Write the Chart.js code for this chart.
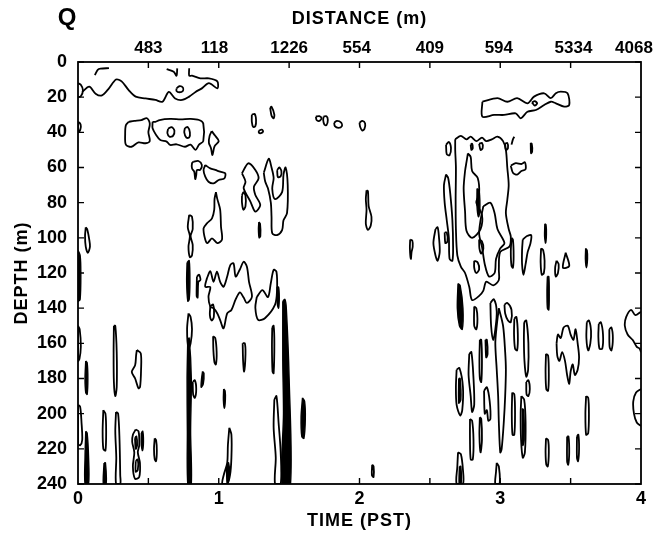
<!DOCTYPE html>
<html>
<head>
<meta charset="utf-8">
<script src="https://cdn.jsdelivr.net/npm/chart.js@4.4.1/dist/chart.umd.min.js"></script>
<style>
  body { margin: 0; background: #fff; }
  #canvas { display: block; }
</style>
</head>
<body>
<canvas id="canvas" width="658" height="535"></canvas>
<script>
// axes
const timeTicks = [0, 1, 2, 3, 4];
const timeTickMarks = [0.5, 1, 1.5, 2, 2.5, 3, 3.5];
const depthTicks = [0, 20, 40, 60, 80, 100, 120, 140, 160, 180, 200, 220, 240];
const distancePos = [0.5, 0.97, 1.5, 1.98, 2.5, 2.99, 3.52, 3.95];
const distanceLabels = ['483', '118', '1226', '554', '409', '594', '5334', '4068'];

// contour lines as [time, depth] points
const openLines = [
    [[0,12],[0.02,13],[0.035,16],[0.02,19.5],[0,20]],
    [[0.03,17],[0.08,14],[0.125,18],[0.17,19],[0.22,15],[0.27,10],[0.31,11],[0.36,16],[0.41,19.7],[0.48,20.7],[0.55,21.6],[0.6,22.6],[0.645,17],[0.69,20.7],[0.74,21.6],[0.79,19.7],[0.835,17],[0.88,15],[0.93,12],[0.99,15],[0.99,11],[0.93,9.3],[0.87,9.3],[0.81,7.8],[0.79,7.8],[0.79,3.6]],
    [[0.12,7.5],[0.14,4.5],[0.16,3.8],[0.22,3.5]],
    [[0.63,4],[0.68,5.5],[0.70,7.8],[0.705,3.6]],
    [[3.08,47],[3.09,44],[3.10,42.5]],
    [[4.0,142],[3.96,144],[3.93,141],[3.895,145],[3.885,150],[3.905,155],[3.94,158],[3.97,162],[3.99,163],[4.0,165]],
    [[4.0,186],[3.965,188],[3.945,193],[3.95,200],[3.97,205],[4.0,207]]
];

const upperLoops = [
    [[0.70,15],[0.72,13.8],[0.745,14.5],[0.745,16.5],[0.72,17.2],[0.70,16.5]],
    [[0.36,34],[0.40,33.5],[0.45,33],[0.49,32],[0.51,35],[0.50,40],[0.51,45],[0.48,46.2],[0.43,45.7],[0.38,48.2],[0.34,47],[0.335,41],[0.34,36]],
    [[0.53,34],[0.55,34],[0.58,33],[0.655,32.4],[0.73,32.6],[0.80,32.4],[0.86,33],[0.89,35],[0.89,45],[0.86,47],[0.835,50],[0.80,47],[0.76,48.2],[0.70,46.8],[0.655,47.2],[0.63,45.3],[0.585,44.4],[0.555,41.5],[0.53,37.7]],
    [[0.64,38],[0.665,37],[0.685,39],[0.675,42],[0.65,42.5],[0.635,40.5]],
    [[0.76,37.5],[0.78,37],[0.795,40],[0.79,43],[0.77,43],[0.755,40]],
    [[0.95,39.3],[0.975,42],[1.0,45],[0.97,48],[0.955,52.9],[0.945,49],[0.93,46],[0.935,42]],
    [[1.235,30],[1.255,29.5],[1.265,33],[1.26,36.5],[1.245,37],[1.235,34]],
    [[1.285,39],[1.305,38.5],[1.315,39.5],[1.30,40.5],[1.285,40.2]],
    [[1.365,26],[1.375,25.5],[1.395,30],[1.39,32],[1.375,30.5]],
    [[1.69,31],[1.715,30.8],[1.73,32],[1.715,33.5],[1.695,33]],
    [[1.745,31],[1.765,30.8],[1.775,33],[1.765,36],[1.75,35.5],[1.742,33]],
    [[1.82,34.5],[1.84,33.5],[1.87,34.5],[1.875,36.5],[1.85,37.5],[1.825,36.5]],
    [[2.0,34.5],[2.02,33.5],[2.04,35],[2.035,38],[2.02,39],[2.005,37]],
    [[0,34],[0.015,35],[0.02,37],[0.01,39.5],[0,40]],
    [[0.82,56.7],[0.856,56.3],[0.88,58.6],[0.868,61.4],[0.845,61.4],[0.84,64.3],[0.833,66.6],[0.826,62.4],[0.81,60.5],[0.81,57.6]],
    [[0.904,58.6],[0.94,60.5],[0.975,61.4],[1.01,62.4],[1.046,63.3],[1.04,66.2],[1.0,67.1],[0.963,69],[0.927,68.1],[0.904,65.2],[0.892,61.4]],
    [[1.165,63.3],[1.21,57.6],[1.26,61.4],[1.283,66.2],[1.25,70.9],[1.26,75.6],[1.295,81.3],[1.26,85.1],[1.225,79.4],[1.177,71.8],[1.19,68.1]],
    [[1.32,63],[1.355,55],[1.375,60],[1.39,66],[1.38,72],[1.40,78],[1.45,74],[1.46,64],[1.475,60],[1.49,70],[1.485,86],[1.46,90],[1.45,95.6],[1.414,98.4],[1.38,97.4],[1.375,88],[1.37,80],[1.35,72],[1.33,68]],
    [[1.415,61.5],[1.43,60],[1.445,62],[1.44,65],[1.42,65.5]],
    [[2.05,73],[2.06,73.5],[2.065,82],[2.085,88],[2.08,93],[2.06,95.5],[2.045,92],[2.05,84],[2.045,78]],
    [[2.36,101],[2.375,101.5],[2.378,105],[2.37,108],[2.365,112],[2.358,106]]
];

const middleLoops = [
    [[0.055,94],[0.065,95],[0.08,101],[0.085,105],[0.07,108.5],[0.055,105],[0.05,99]],
    [[0.79,87],[0.81,88],[0.815,95],[0.80,99],[0.815,104],[0.81,110],[0.795,111],[0.785,105],[0.795,99],[0.78,94]],
    [[0.98,74],[0.99,78],[1.01,84],[1.016,93.7],[1.023,101],[0.99,103],[0.952,100.3],[0.92,103],[0.904,101],[0.892,94.6],[0.916,91.8],[0.952,88.9],[0.968,84],[0.97,78]],
    [[1.165,76],[1.175,74],[1.19,76],[1.19,82],[1.175,84],[1.165,80]],
    [[0.785,143],[0.80,145],[0.81,152],[0.80,160],[0.785,163],[0.775,152]],
    [[0.845,122],[0.86,121],[0.87,124],[0.855,125],[0.85,134],[0.843,133]],
    [[0.916,123],[0.94,119],[0.963,125],[0.987,119.3],[1.01,125],[1.034,127.8],[1.06,122],[1.082,115.5],[1.105,114.5],[1.12,122],[1.15,118],[1.177,113.6],[1.2,116.4],[1.215,125],[1.236,133.5],[1.20,137],[1.177,134],[1.15,131],[1.12,135],[1.09,141],[1.06,143],[1.034,151.5],[1.01,146.8],[0.99,143],[0.963,140],[0.94,139.2],[0.927,133.5],[0.94,128],[0.904,127.8]],
    [[0.94,139],[0.96,138],[0.965,145],[0.95,147],[0.937,144]],
    [[1.27,133.7],[1.31,129.7],[1.35,133.7],[1.37,125.7],[1.39,118.2],[1.41,119.3],[1.414,129.7],[1.40,138],[1.33,145.6],[1.28,146.7],[1.26,139.8]],
    [[1.38,151],[1.39,150],[1.395,160],[1.39,177],[1.382,176],[1.378,162]],
    [[1.395,192],[1.41,190],[1.425,205],[1.44,222],[1.44,240],[1.40,240],[1.405,225],[1.39,208]]
];

const lowerLoops = [
    [[0,150],[0.012,152],[0.02,162],[0.01,169],[0,170]],
    [[0.255,150],[0.265,150],[0.275,165],[0.275,185],[0.265,190],[0.255,182],[0.253,165]],
    [[0.418,163.8],[0.446,165.7],[0.448,175.2],[0.441,184.7],[0.43,185.6],[0.406,180],[0.382,176.2],[0.406,172.4],[0.413,166.7]],
    [[0,195],[0.015,196],[0.025,205],[0.03,215],[0.015,218],[0,217]],
    [[0.18,198],[0.195,200],[0.2,210],[0.195,221],[0.18,220],[0.175,210]],
    [[0.27,199],[0.285,200],[0.295,215],[0.30,235],[0.30,240],[0.27,240],[0.272,225],[0.265,210]],
    [[0.41,209],[0.43,210],[0.435,218],[0.425,222],[0.44,228],[0.435,236],[0.405,237],[0.39,230],[0.40,222],[0.385,216],[0.39,212]],
    [[0.405,214],[0.415,213],[0.42,218],[0.41,220]],
    [[0.41,227],[0.425,226],[0.425,232],[0.41,233]],
    [[0.545,214],[0.555,215],[0.56,221],[0.555,227],[0.545,226],[0.54,220]],
    [[0.96,156],[0.975,157],[0.985,165],[0.98,172],[0.97,171],[0.962,164]],
    [[0.815,182],[0.83,181],[0.84,186],[0.83,191],[0.818,189]],
    [[1.17,160],[1.185,160],[1.19,166],[1.18,176],[1.173,170]],
    [[1.075,208],[1.09,212],[1.09,225],[1.08,235],[1.06,240],[1.025,240],[1.035,235],[1.06,228],[1.065,218]],
    [[2.09,229],[2.1,230],[2.1,236],[2.088,235]]
];

const rightLoops = [
    [[2.873,22.6],[2.98,20.6],[3.05,22.6],[3.12,20.6],[3.193,23.5],[3.24,19.7],[3.312,17.8],[3.359,20.6],[3.395,17.8],[3.43,16.9],[3.478,17.8],[3.49,24.5],[3.454,25.4],[3.395,23.5],[3.359,22.6],[3.312,24.5],[3.253,27.3],[3.193,28.3],[3.146,32],[3.11,29.2],[3.027,30.1],[2.956,30.1],[2.873,31.1]],
    [[3.225,23],[3.245,22.2],[3.262,23.5],[3.245,24.8]],
    [[2.68,44],[2.72,42],[2.76,44],[2.79,42.5],[2.83,45],[2.87,43],[2.90,45],[2.94,44],[2.98,42.5],[3.02,45],[3.04,50],[3.05,60],[3.06,70],[3.05,78.5],[3.04,86],[3.06,95],[3.075,99.4],[3.065,105],[3.0,108],[2.99,118],[2.99,124],[2.95,127],[2.90,125],[2.88,130],[2.85,133],[2.80,135.4],[2.78,128],[2.75,120],[2.72,116.4],[2.695,110],[2.685,95],[2.683,78.5],[2.685,60],[2.68,50]],
    [[2.77,52],[2.79,54],[2.80,62],[2.84,66],[2.85,75],[2.83,80],[2.87,87],[2.86,95],[2.80,100],[2.76,96],[2.75,85],[2.74,72],[2.75,62],[2.76,57]],
    [[2.88,82],[2.93,80],[2.96,86],[2.98,95],[3.03,103],[3.0,106],[2.97,112],[2.96,120],[2.92,122],[2.89,115],[2.87,105],[2.85,98],[2.86,90]],
    [[2.85,101],[2.87,102],[2.88,106],[2.865,109],[2.852,106]],
    [[2.815,113],[2.84,114],[2.85,118],[2.83,120],[2.815,117]],
    [[2.615,47],[2.635,45.5],[2.65,49],[2.64,53],[2.62,52.5]],
    [[2.79,47],[2.80,46.5],[2.805,49],[2.795,50]],
    [[2.85,46.5],[2.87,46],[2.875,49],[2.86,50]],
    [[3.035,46.5],[3.05,46],[3.055,49],[3.04,50]],
    [[3.075,59],[3.11,57.5],[3.15,58],[3.175,57],[3.18,61],[3.15,62],[3.12,64],[3.09,63]],
    [[2.615,64],[2.63,66],[2.645,75],[2.66,90],[2.665,105],[2.66,113],[2.64,112],[2.635,100],[2.62,90],[2.605,80],[2.60,70]],
    [[2.54,95],[2.555,94],[2.565,100],[2.57,108],[2.555,113],[2.54,110],[2.525,103]],
    [[2.605,97],[2.62,97],[2.625,102],[2.61,103]],
    [[3.08,100],[3.09,101],[3.095,110],[3.09,117],[3.08,116],[3.075,108]],
    [[3.16,101],[3.19,99],[3.22,98.5],[3.215,103],[3.195,108],[3.18,115],[3.165,121],[3.155,115],[3.155,107]],
    [[3.29,106],[3.305,107],[3.315,113],[3.31,120],[3.295,121],[3.287,114]],
    [[3.40,113],[3.415,115],[3.41,120],[3.395,122],[3.39,117]],
    [[3.465,108.5],[3.49,116],[3.445,117]],
    [[2.815,139],[2.83,140],[2.838,146],[2.83,152],[2.815,150]],
    [[2.93,137],[2.955,135],[2.975,142],[2.965,152],[2.95,158],[2.935,150]],
    [[3.03,138],[3.05,137],[3.08,141],[3.075,148],[3.055,147],[3.035,143]],
    [[3.1,146],[3.115,145],[3.125,155],[3.12,164],[3.105,163],[3.098,155]],
    [[3.17,148],[3.185,147],[3.2,160],[3.198,175],[3.185,179],[3.172,170],[3.168,158]],
    [[3.40,160],[3.41,155],[3.43,157],[3.45,151],[3.48,150],[3.50,155],[3.52,158],[3.535,152],[3.55,160],[3.56,168],[3.55,175],[3.53,178],[3.515,172],[3.50,176],[3.49,183],[3.475,178],[3.46,170],[3.44,165],[3.42,170],[3.405,167]],
    [[3.615,148],[3.63,147],[3.645,153],[3.64,160],[3.625,164],[3.612,157]],
    [[3.70,149],[3.715,148],[3.73,155],[3.725,163],[3.705,163],[3.697,156]],
    [[3.775,152],[3.79,151],[3.80,157],[3.79,164],[3.777,162]]
];

const lowerRightLoops = [
    [[2.69,175],[2.71,174],[2.735,185],[2.73,198],[2.715,201],[2.69,195],[2.685,185]],
    [[2.78,166],[2.795,165],[2.81,180],[2.815,195],[2.80,199],[2.79,190],[2.775,178]],
    [[2.855,158],[2.865,158],[2.87,170],[2.865,182],[2.855,180],[2.852,170]],
    [[2.885,187],[2.905,185],[2.925,193],[2.93,203],[2.915,204],[2.905,198],[2.89,200]],
    [[2.895,158],[2.905,158],[2.91,166],[2.90,168]],
    [[2.99,140],[3.02,150],[3.035,165],[3.04,175],[3.035,190],[3.025,205],[3.01,220],[3.0,222],[2.99,205],[2.985,190],[2.975,175],[2.965,160],[2.975,150]],
    [[2.785,203],[2.80,204],[2.81,215],[2.805,226],[2.79,226],[2.785,215]],
    [[2.855,202],[2.865,203],[2.87,215],[2.86,222],[2.852,212]],
    [[2.70,222],[2.72,223],[2.735,232],[2.735,240],[2.69,240],[2.695,230]],
    [[2.975,228],[2.99,230],[2.995,240],[2.965,240],[2.97,233]],
    [[3.085,188],[3.10,189],[3.105,200],[3.10,212],[3.087,212],[3.082,200]],
    [[3.15,190],[3.17,192],[3.18,205],[3.175,222],[3.16,225],[3.148,215],[3.145,200]],
    [[3.185,182],[3.20,181],[3.21,186],[3.20,190],[3.187,189]],
    [[3.325,166],[3.34,167],[3.345,178],[3.34,187],[3.327,186],[3.322,176]],
    [[3.325,214],[3.34,215],[3.345,222],[3.338,230],[3.327,229],[3.322,222]],
    [[3.475,213],[3.485,213],[3.49,222],[3.483,229],[3.475,227]],
    [[3.545,213],[3.555,212],[3.56,220],[3.553,227],[3.545,225]],
    [[3.61,190],[3.625,191],[3.63,200],[3.625,211],[3.61,212],[3.605,200]]
];

// tightly packed contours that print as solid black
const solidPatches = [
    [[0,107],[0.015,110],[0.02,120],[0.015,135],[0,136]],
    [[0.775,114],[0.79,113],[0.795,125],[0.79,135],[0.78,136],[0.772,125]],
    [[0.78,158],[0.79,157],[0.805,180],[0.80,210],[0.805,240],[0.78,240],[0.777,210],[0.775,180]],
    [[1.455,136],[1.47,135],[1.48,140],[1.50,180],[1.51,240],[1.45,240],[1.46,200],[1.455,170]],
    [[1.285,91],[1.295,92],[1.297,99],[1.287,100],[1.282,95]],
    [[1.415,128],[1.425,128],[1.43,134],[1.425,140],[1.417,138]],
    [[1.595,191],[1.61,193],[1.615,203],[1.605,214],[1.59,213],[1.585,202]],
    [[0.055,170],[0.065,171],[0.07,180],[0.065,189],[0.055,188],[0.05,180]],
    [[0.055,210],[0.065,211],[0.075,225],[0.075,240],[0.05,240],[0.05,225]],
    [[0.185,228],[0.195,228],[0.2,240],[0.18,240]],
    [[0.45,211],[0.46,210],[0.465,216],[0.458,221],[0.45,218]],
    [[0.885,176],[0.895,177],[0.89,183],[0.875,185],[0.878,180]],
    [[1.035,186],[1.045,187],[1.047,192],[1.04,197],[1.033,192]],
    [[1.055,230],[1.07,228],[1.075,236],[1.06,240]],
    [[2.835,72],[2.85,73],[2.855,85],[2.845,88],[2.835,82]],
    [[3.215,46],[3.225,46.5],[3.228,51],[3.218,52]],
    [[3.317,92],[3.325,92.5],[3.328,98],[3.322,103],[3.315,99]],
    [[3.607,106],[3.617,107],[3.62,112],[3.612,117],[3.605,112]],
    [[3.335,122],[3.345,122],[3.348,132],[3.345,141],[3.335,140],[3.332,130]],
    [[2.70,126],[2.715,127],[2.735,140],[2.73,152],[2.71,150],[2.695,140]],
    [[2.705,180],[2.715,180],[2.72,192],[2.705,194]],
    [[2.71,230],[2.72,230],[2.722,240],[2.708,240]],
    [[3.157,197],[3.167,198],[3.17,215],[3.16,218]]
];

const FONT = "'Liberation Sans', Arial, sans-serif";

function toPoints(pts, close) {
    const out = pts.map(p => ({x: p[0], y: p[1]}));
    if(close) out.push({x: pts[0][0], y: pts[0][1]});
    return out;
}

function lineSet(pts, close) {
    return {
        data: toPoints(pts, close),
        showLine: true,
        borderColor: '#000',
        borderWidth: 1.8,
        pointRadius: 0,
        tension: 0.3,
        fill: false
    };
}

function solidSet(pts) {
    return {
        data: toPoints(pts, true),
        showLine: true,
        borderColor: '#000',
        backgroundColor: '#000',
        borderWidth: 1.4,
        pointRadius: 0,
        tension: 0.3,
        fill: 'shape'
    };
}

const datasets = [];
openLines.forEach(c => datasets.push(lineSet(c, false)));
[upperLoops, middleLoops, lowerLoops, rightLoops, lowerRightLoops].forEach(group => {
    group.forEach(c => datasets.push(lineSet(c, true)));
});
solidPatches.forEach(c => datasets.push(solidSet(c)));

const framePlugin = {
    id: 'frame',
    afterDraw(chart) {
        const ctx = chart.ctx;
        const a = chart.chartArea;
        const x = chart.scales.x;
        const y = chart.scales.y;
        const tick = 6;

        ctx.save();
        ctx.strokeStyle = '#000';
        ctx.lineWidth = 1.8;
        ctx.strokeRect(a.left, a.top, a.right - a.left, a.bottom - a.top);

        ctx.lineWidth = 1.4;
        ctx.beginPath();
        timeTickMarks.forEach(v => {
            const px = x.getPixelForValue(v);
            ctx.moveTo(px, a.top); ctx.lineTo(px, a.top + tick);
            ctx.moveTo(px, a.bottom); ctx.lineTo(px, a.bottom - tick);
        });
        depthTicks.forEach(v => {
            const py = y.getPixelForValue(v);
            ctx.moveTo(a.left, py); ctx.lineTo(a.left + tick, py);
            ctx.moveTo(a.right, py); ctx.lineTo(a.right - tick, py);
        });
        ctx.stroke();

        ctx.fillStyle = '#000';
        ctx.textAlign = 'center';
        ctx.textBaseline = 'middle';
        ctx.letterSpacing = '1px';
        ctx.font = 'bold 18px ' + FONT;
        ctx.fillText('DISTANCE (m)', (a.left + a.right) / 2, 19);
        ctx.fillText('TIME (PST)', (a.left + a.right) / 2, 521);

        ctx.save();
        ctx.translate(22, (a.top + a.bottom) / 2);
        ctx.rotate(-Math.PI / 2);
        ctx.fillText('DEPTH (m)', 0, 0);
        ctx.restore();

        ctx.letterSpacing = '0px';
        ctx.font = 'bold 24px ' + FONT;
        ctx.fillText('Q', 67, 18);
        ctx.restore();
    }
};

const tickFont = {family: FONT, size: 18, weight: 'bold'};

function noSidePad(s) {
    s.paddingLeft = 0;
    s.paddingRight = 0;
}

new Chart(document.getElementById('canvas').getContext('2d'), {
    type: 'scatter',
    data: { datasets: datasets },
    options: {
        responsive: false,
        animation: false,
        layout: { padding: { right: 17, top: 0, left: 0, bottom: 0 } },
        plugins: {
            legend: { display: false },
            tooltip: { enabled: false }
        },
        scales: {
            x: {
                type: 'linear', position: 'bottom', min: 0, max: 4,
                afterBuildTicks: s => { s.ticks = timeTicks.map(v => ({value: v})); },
                afterFit: s => { s.height = 51; noSidePad(s); },
                grid: { display: false, drawTicks: false },
                border: { display: false },
                ticks: { font: tickFont, color: '#000', padding: 4, maxRotation: 0, autoSkip: false }
            },
            xTop: {
                type: 'linear', position: 'top', min: 0, max: 4,
                afterBuildTicks: s => { s.ticks = distancePos.map(v => ({value: v})); },
                afterFit: s => { s.height = 62; noSidePad(s); },
                grid: { display: false, drawTicks: false },
                border: { display: false },
                ticks: {
                    font: {family: FONT, size: 17, weight: 'bold'}, color: '#000', padding: 3,
                    maxRotation: 0, autoSkip: false,
                    callback: (v, i) => distanceLabels[i]
                }
            },
            y: {
                type: 'linear', reverse: true, min: 0, max: 240,
                afterBuildTicks: s => { s.ticks = depthTicks.map(v => ({value: v})); },
                afterFit: s => { s.width = 78; },
                grid: { display: false, drawTicks: false },
                border: { display: false },
                ticks: { font: tickFont, color: '#000', padding: 11, autoSkip: false }
            }
        }
    },
    plugins: [framePlugin]
});
</script>
</body>
</html>
